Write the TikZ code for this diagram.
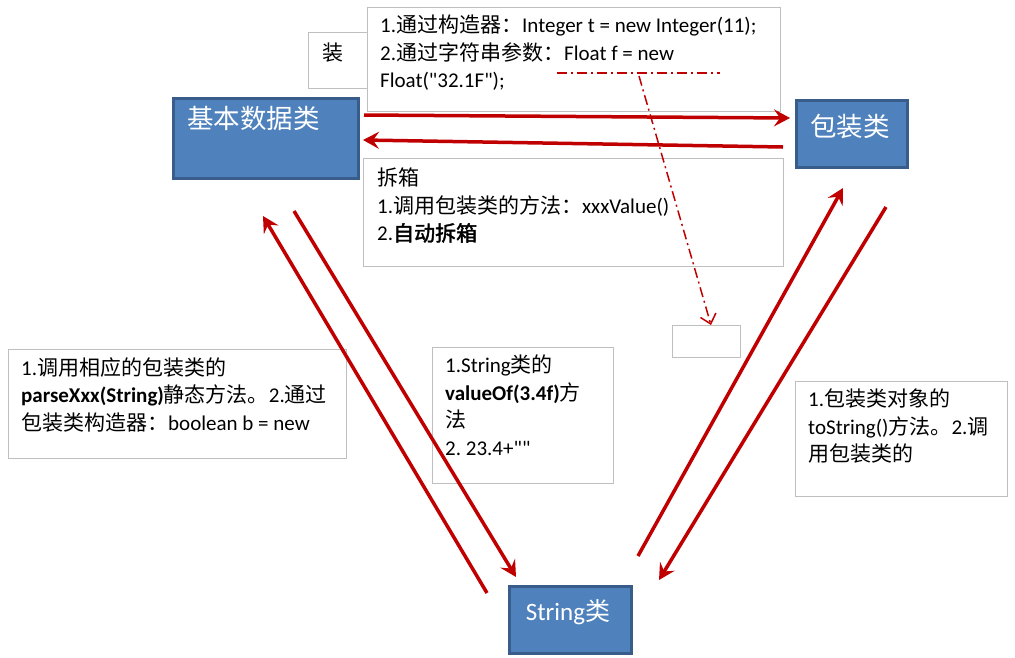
\documentclass[tikz,border=0pt]{standalone}
\usepackage{fontspec}
\setmainfont{Carlito}
\newfontfamily\cjk[AutoFakeBold=2]{Noto Sans CJK SC}
\newcommand\zh[1]{{\cjk #1}}
\newcommand\dq{\textquotedbl}
\frenchspacing
\usetikzlibrary{arrows.meta}

\definecolor{clsfill}{HTML}{4F81BD}
\definecolor{clsborder}{HTML}{385D8A}
\definecolor{convred}{HTML}{C00000}
\definecolor{notegray}{HTML}{BFBFBF}

\tikzset{
  classbox/.style={draw=clsborder, fill=clsfill, line width=3pt, anchor=north west, inner sep=0pt},
  classtext/.style={text=white, inner sep=0pt, font=\cjk\fontsize{26.5}{30}\selectfont},
  notebox/.style={draw=notegray, line width=1.2pt, anchor=north west, inner sep=0pt, fill=white},
  % the first line carries a 20pt strut, so the node is placed 20pt above its first baseline
  notetext/.style={anchor=north west, inner sep=0pt, align=left, yshift=20pt,
    font=\fontsize{21}{27.5}\selectfont, execute at begin node=\rule{0pt}{20pt}},
  conv/.style={draw=convred, line width=3.5pt, -{Stealth[length=16pt,width=17pt,inset=6pt]}},
  hint/.style={draw=convred, line width=1.5pt, dash pattern=on 10pt off 4pt on 2pt off 4pt},
}

\begin{document}
\begin{tikzpicture}[x=1pt,y=-1pt]
\useasboundingbox (0,0) rectangle (1015,657);

% class boxes
\node[classbox, minimum width=185pt, minimum height=80pt] (prim) at (172,97) {};
\node[classtext, anchor=north west] (primlabel) at (187,106) {基本数据类};
\node[classbox, minimum width=111pt, minimum height=67pt] (wrap) at (795,99) {};
\node[classtext] (wraplabel) at (850,126) {包装类};
\node[classbox, minimum width=122pt, minimum height=67pt] (str) at (508,585) {};
\node[classtext, font=\fontsize{25}{28}\selectfont] (strlabel) at (568,612) {String\zh{类}};

% boxing note
\node[notebox, minimum width=61pt, minimum height=56pt] (boxtag) at (308,32) {};
\node[inner sep=0pt, font=\cjk\fontsize{21}{24}\selectfont] (boxtaglabel) at (333,53) {装};
\node[notebox, minimum width=413pt, minimum height=104pt] (boxnote) at (367,7) {};
\node[notetext] (boxnotetext) at (380,35) {1.\zh{通过构造器：}Integer t = new Integer(11);\\
2.\zh{通过字符串参数：}Float f = new\\
Float(\dq32.1F\dq);};

% unboxing note
\node[notebox, minimum width=420pt, minimum height=108pt] (unboxnote) at (363,158) {};
\node[notetext] (unboxnotetext) at (377,188) {\zh{拆箱}\\
1.\zh{调用包装类的方法：}xxxValue()\\
2.\textbf{\zh{自动拆箱}}};

% string conversion notes
\node[notebox, minimum width=338pt, minimum height=109pt] (parsenote) at (8,349) {};
\node[notetext] (parsenotetext) at (21,377) {1.\zh{调用相应的包装类的}\\
\textbf{parseXxx(String)}\zh{静态方法。}2.\zh{通过}\\
\zh{包装类构造器：}boolean b = new};

\node[notebox, minimum width=181pt, minimum height=136pt] (valuenote) at (432,347) {};
\node[notetext] (valuenotetext) at (445,375) {1.String\zh{类的}\\
\textbf{valueOf(3.4f)}\zh{方}\\
\zh{法}\\
2. 23.4+\dq\dq};

\node[notebox, minimum width=212pt, minimum height=115pt] (tostrnote) at (795,381) {};
\node[notetext] (tostrnotetext) at (808,409) {1.\zh{包装类对象的}\\
toString()\zh{方法。}2.\zh{调}\\
\zh{用包装类的}};

\node[notebox, minimum width=68pt, minimum height=32pt] (blank) at (672,325) {};

% end points of the conversion arrows
\coordinate (p2w-a) at (364,115);  \coordinate (p2w-b) at (790,118);
\coordinate (w2p-a) at (783,147);  \coordinate (w2p-b) at (363,140);
\coordinate (s2p-a) at (487,593);  \coordinate (s2p-b) at (263,216);
\coordinate (p2s-a) at (294,211);  \coordinate (p2s-b) at (516,577);
\coordinate (s2w-a) at (638,556);  \coordinate (s2w-b) at (843,188);
\coordinate (w2s-a) at (886,207);  \coordinate (w2s-b) at (659,580);

\draw[conv] (p2w-a) -- (p2w-b);
\draw[conv] (w2p-a) -- (w2p-b);
\draw[conv] (s2p-a) -- (s2p-b);
\draw[conv] (p2s-a) -- (p2s-b);
\draw[conv] (s2w-a) -- (s2w-b);
\draw[conv] (w2s-a) -- (w2s-b);

% dash-dot pointer
\coordinate (hint-l) at (557,73);
\coordinate (hint-r) at (720,73);
\coordinate (hint-s) at (639,76);
\draw[hint] (hint-l) -- (hint-r);
\draw[hint, -{Straight Barb[length=9pt,width=16pt]}] (hint-s) -- (blank.north -| 711,0) ;
\end{tikzpicture}
\end{document}
